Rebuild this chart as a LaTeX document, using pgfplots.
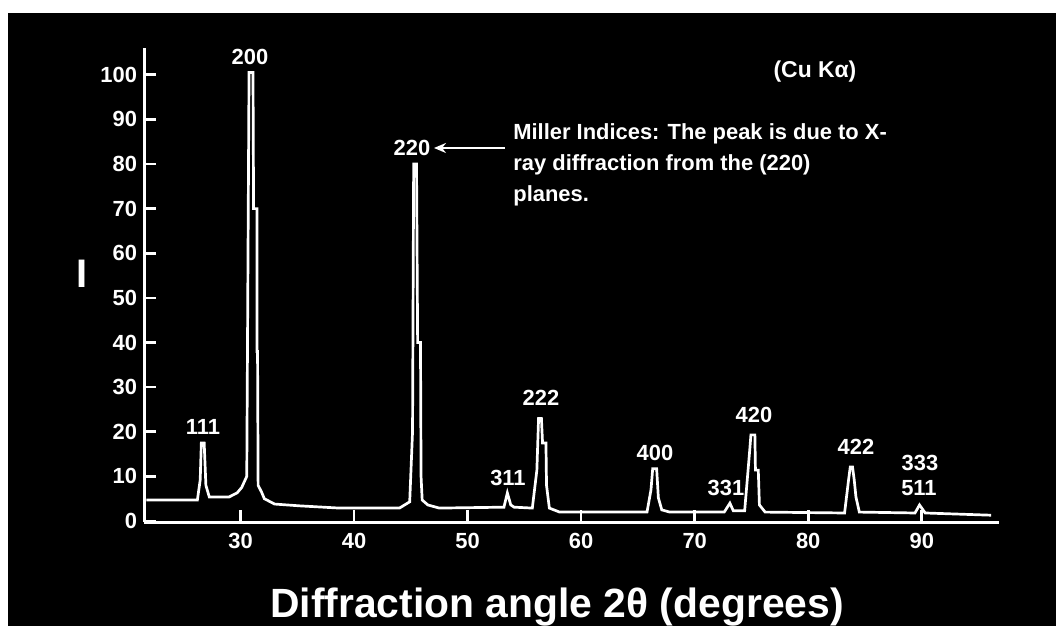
\documentclass[border=0pt]{standalone}
\usepackage{fontspec}
\setmainfont{Liberation Sans}
\usepackage{pgfplots}
\pgfplotsset{compat=1.18}
\usetikzlibrary{arrows.meta}

\newcommand{\smallbf}{\bfseries\fontsize{11}{15.5}\selectfont}

\begin{document}
\begin{tikzpicture}
% page: white margin at top and left, black field
\fill[white] (0,0) rectangle (528bp,313bp);
\fill[black] (4bp,0) rectangle (528bp,306.5bp);

\begin{axis}[
  at={(72bp,52bp)}, anchor=south west,
  scale only axis, width=427.5bp, height=237bp,
  xmin=21.5, xmax=96.8, ymin=-0.22, ymax=106,
  axis x line*=bottom, axis y line*=left,
  axis line style={-, white, line width=1.5bp},
  xtick={30,40,...,90}, ytick={0,10,...,100},
  tick align=inside, major tick length=6bp,
  tick style={white, line width=1.3bp},
  ticklabel style={font=\smallbf, text=white},
  /pgf/number format/assume math mode=true,
  xticklabel style={yshift=-2bp},
]
\addplot[white, line width=1.35bp] coordinates {
(21.7,4.7) (25.5,4.7) (26.2,4.7) (26.45,9.2) (26.55,17.5) (26.8,17.5)
(26.95,8) (27.25,5.4) (29.0,5.4) (29.7,6.3) (30.1,7.5) (30.55,10)
(30.75,100.5) (31.1,100.5) (31.15,70) (31.45,70) (31.45,38) (31.5,38)
(31.55,8) (31.85,6.5) (32.1,5) (33.0,3.8) (35.2,3.4) (38.7,2.9)
(44.0,2.9) (44.9,4.3) (45.15,20) (45.25,80) (45.5,80) (45.6,40)
(45.85,40) (45.9,10) (46.0,4.7) (46.5,3.6) (47.5,2.9) (53.2,3.1)
(53.5,6.3) (53.8,3.6) (54.1,3.1) (55.7,2.9) (56.1,11.4) (56.25,23)
(56.5,23) (56.6,17.5) (56.9,17.5) (56.95,8) (57.2,2.9) (58.1,2.0)
(65.8,2.0) (66.15,7) (66.3,11.7) (66.65,11.7) (66.8,5.2) (67.1,2.5)
(67.8,2.0) (72.6,2.0) (73.1,4.0) (73.4,2.3) (74.4,2.3) (74.85,16)
(74.95,19.3) (75.3,19.3) (75.35,11.4) (75.6,11.4) (75.7,3.6) (76.2,2.0)
(83.2,1.8) (83.55,9.2) (83.7,12.1) (83.9,12.1) (84.05,9.2) (84.2,5.4)
(84.5,2.0) (89.4,1.8) (89.8,3.6) (90.3,1.8) (96.1,1.3)
};
\end{axis}

% annotations, placed in image pixel units (origin top left)
\begin{scope}[shift={(0bp,313bp)}, x=0.5bp, y=-0.5bp,
  every node/.style={text=white, font=\smallbf}]
\node at (250,57) {200};
\node at (412,148) {220};
\node at (203,427) {111};
\node at (508,478) {311};
\node at (541,398) {222};
\node at (655,453) {400};
\node at (726,488) {331};
\node at (754,415) {420};
\node at (856,447) {422};
\node at (920,463) {333};
\node at (919,488) {511};
\draw[white, line width=1.2bp, -{Stealth[length=6bp,width=5bp]}] (505,148) -- (434,148);
\node[anchor=north west, align=left, inner sep=0pt] at (513,123)
  {Miller Indices: The peak is due to X-\\ray diffraction from the (220)\\planes.};
\node[font=\bfseries\fontsize{11.5}{13}\selectfont] at (815,72) {(Cu Kα)};
\node[font=\bfseries\fontsize{20}{24}\selectfont] at (82,274) {I};
\node[anchor=base, font=\bfseries\fontsize{20.5}{24}\selectfont] at (557,618)
  {Diffraction angle 2θ (degrees)};
\end{scope}

\pgfresetboundingbox
\path[use as bounding box] (0,0) rectangle (528bp,313bp);
\end{tikzpicture}
\end{document}
